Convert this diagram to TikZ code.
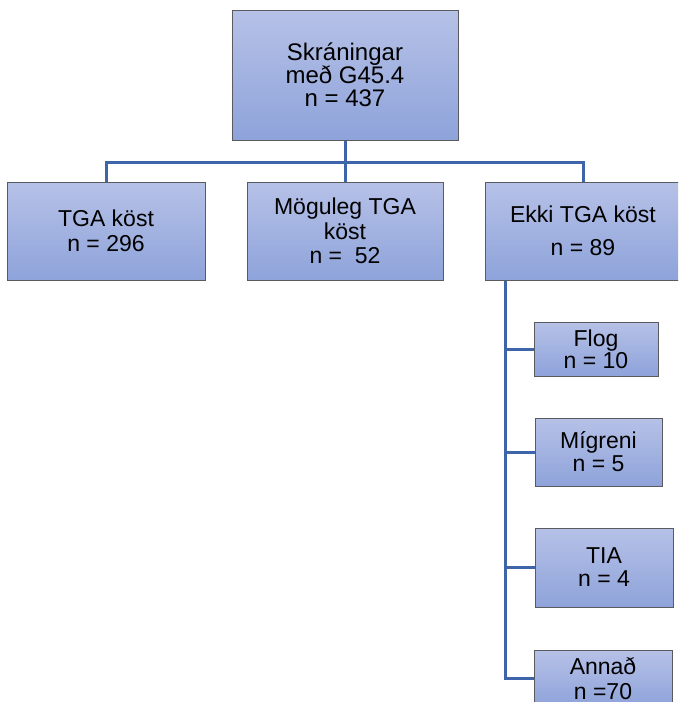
\documentclass[tikz,border=0pt]{standalone}
\usepackage{fontspec}
\setmainfont{Liberation Sans}
\usetikzlibrary{backgrounds}
\definecolor{boxtop}{RGB}{182,193,231}
\definecolor{boxbot}{RGB}{142,163,218}
\definecolor{boxborder}{RGB}{90,90,95}
\definecolor{connblue}{RGB}{62,100,170}
\tikzset{
  box/.style={draw=boxborder, line width=0.9pt, top color=boxtop, bottom color=boxbot,
    align=center, inner sep=0pt, font=\fontsize{23}{24}\selectfont},
  conn/.style={draw=connblue, line width=3pt, line join=miter}
}
\begin{document}
\begin{tikzpicture}[x=1pt,y=-1pt]
\useasboundingbox (0,0) rectangle (678,702);
\clip (0,0) rectangle (678,702);
% nodes
\node[box, minimum width=226pt, minimum height=130pt, font=\fontsize{24}{23}\selectfont] (top) at (345,75) {Skráningar\\ með G45.4\\ n = 437};
\node[box, minimum width=198pt, minimum height=98pt, font=\fontsize{23}{25}\selectfont] (tga) at (106,231) {TGA köst\\ n = 296};
\node[box, minimum width=196pt, minimum height=98pt, font=\fontsize{23}{24.5}\selectfont] (mog) at (345,231) {Möguleg TGA\\ köst\\ n = \ 52};
\node[box, minimum width=196pt, minimum height=98pt, font=\fontsize{23}{33}\selectfont] (ekki) at (583,231) {Ekki TGA köst\\ n = 89};
\node[box, minimum width=124pt, minimum height=54pt, font=\fontsize{23}{22}\selectfont] (flog) at (596,349) {Flog\\ n = 10};
\node[box, minimum width=127pt, minimum height=68pt, font=\fontsize{23}{23}\selectfont] (mig) at (598.5,452) {Mígreni\\ n = 5};
\node[box, minimum width=138pt, minimum height=79pt, font=\fontsize{23}{23}\selectfont] (tia) at (604,567.5) {TIA\\ n = 4};
\node[box, minimum width=138pt, minimum height=56pt, font=\fontsize{23}{23}\selectfont, anchor=north] (annad) at (603,650) {\raisebox{2pt}{Annað}\\ n =70};
% connectors behind the boxes
\coordinate (bar) at (345,162);
\coordinate (ek) at (505,280);
\begin{pgfonlayer}{background}
\fill[white] (0,0) rectangle (678,702);
\draw[conn] (top.south) -- (mog.north);
\draw[conn] (tga.north) |- (bar) -| (ekki.north);
\draw[conn] (ek) |- (annad.west);
\draw[conn] (ek |- flog.west) -- (flog.west);
\draw[conn] (ek |- mig.west) -- (mig.west);
\draw[conn] (ek |- tia.west) -- (tia.west);
\end{pgfonlayer}
\end{tikzpicture}
\end{document}
